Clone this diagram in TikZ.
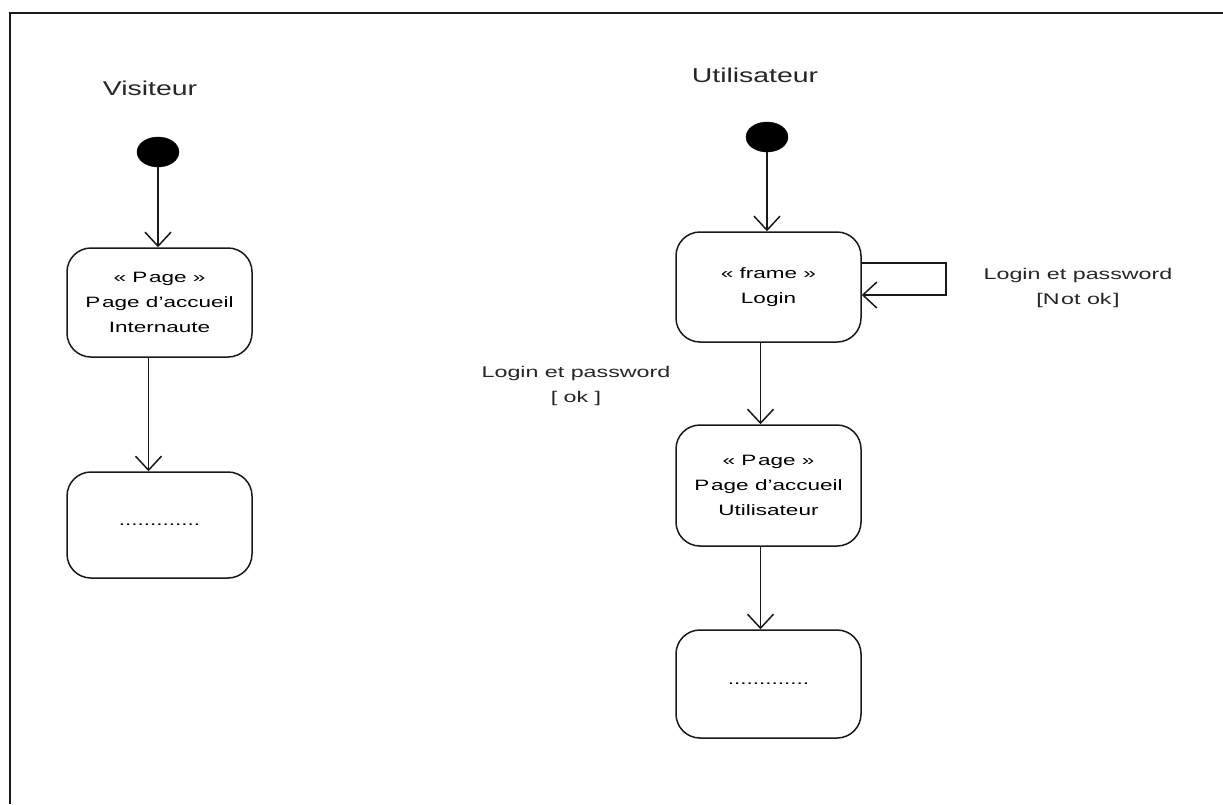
\documentclass[tikz,border=0pt]{standalone}
\usepackage{fontspec}
\setmainfont{Liberation Sans}
\usetikzlibrary{arrows.meta,shapes.geometric}

% horizontally widened text, as the diagram's lettering is stretched
\newcommand\wide[1]{\scalebox{1.5}[1]{#1}}
\newcommand\widet[1]{\scalebox{1.42}[1]{#1}}

\tikzset{
  state/.style={draw=black!90, line width=1.5pt, rounded corners=24pt,
    minimum width=185pt, inner sep=0pt, align=center,
    font=\fontsize{15}{25}\selectfont},
  initial/.style={ellipse, fill=black, draw=black, minimum width=42pt,
    minimum height=30pt, inner sep=0pt},
  title/.style={font=\fontsize{20}{24}\selectfont, text=black!85},
  guard/.style={align=center, font=\fontsize{15.5}{25}\selectfont, text=black!85},
  flow/.style={draw=black!90, line width=1.6pt,
    -{Straight Barb[length=14pt,width=26pt,line width=1.5pt]}},
}

\begin{document}
\begin{tikzpicture}[x=1pt, y=-1pt]
  \useasboundingbox (0,0) rectangle (1223,804);
  \fill[white] (0,0) rectangle (1223,804);

  % outer frame (continues past the right and bottom edges)
  \draw[line width=2.5pt, black!90] (10,804) -- (10,13) -- (1223,13);

  % ---- Visiteur ----
  \node[title] (tv) at (150,88) {\widet{Visiteur}};
  \node[initial] (iv) at (158,152) {};
  \node[state, minimum height=109pt] (accI) at (159.5,302.5)
    {\wide{« P\kern1.2pt age »}\\\wide{P\kern1.2pt age d’accueil}\\\wide{Internaute}};
  \node[state, minimum height=106pt] (nextI) at (159.5,525)
    {\wide{.............}};

  \draw[flow] (iv.south) -- (iv.south |- accI.north);
  \draw[flow] ([xshift=-11pt]accI.south) -- ([xshift=-11pt]nextI.north);

  % ---- Utilisateur ----
  \node[title] (tu) at (755,75) {\widet{Utilisateur}};
  \node[initial] (iu) at (767,137) {};
  \node[state, minimum height=110pt] (login) at (768.5,287)
    {\wide{« frame »}\\\wide{Login}};
  \node[state, minimum height=121pt] (accU) at (768.5,485.5)
    {\wide{« P\kern1.2pt age »}\\\wide{P\kern1.2pt age d’accueil}\\\wide{Utilisateur}};
  \node[state, minimum height=108pt] (nextU) at (768.5,684)
    {\wide{.............}};

  \draw[flow] (iu.south) -- (iu.south |- login.north);
  \draw[flow] ([xshift=-8pt]login.south) -- ([xshift=-8pt]accU.north);
  \draw[flow] ([xshift=-8pt]accU.south) -- ([xshift=-8pt]nextU.north);

  % self transition on the login frame
  \coordinate (loopA) at (946,263);
  \coordinate (loopB) at (946,295);
  \draw[flow] (login.east |- loopA) -- (loopA) -- (loopB) -- (login.east |- loopB);

  % guards
  \node[guard] (gNot) at (1078,288)
    {\wide{Login et password}\\\wide{[N\kern1pt ot ok\kern1pt ]}};
  \node[guard] (gOk) at (576,386)
    {\wide{Login et password}\\\wide{[ ok ]}};
\end{tikzpicture}
\end{document}
